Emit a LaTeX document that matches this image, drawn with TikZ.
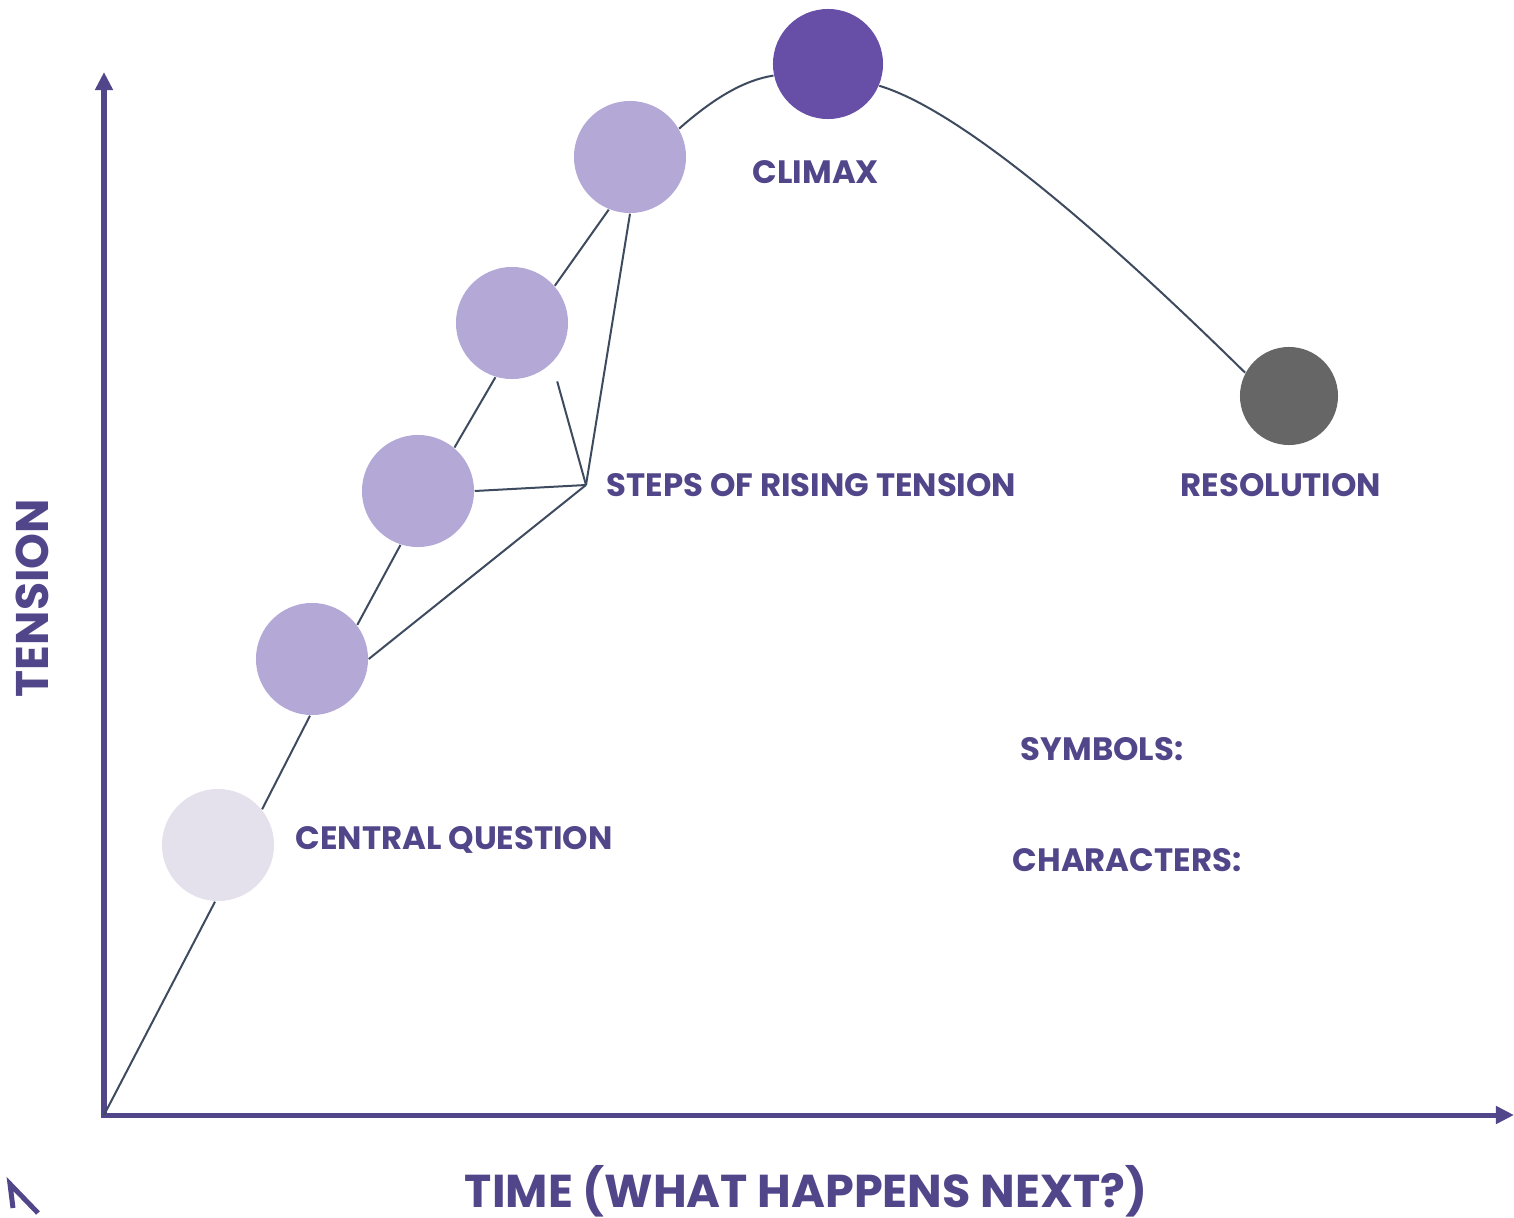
\documentclass[tikz,border=0pt]{standalone}
\usepackage{fontspec}
\setmainfont{Poppins}
\usetikzlibrary{arrows.meta}
\definecolor{storyink}{RGB}{82,70,138}
\definecolor{threadgray}{RGB}{62,75,95}
\definecolor{stepfill}{RGB}{179,168,214}
\definecolor{paleq}{RGB}{228,225,236}
\definecolor{peak}{RGB}{103,78,167}
\definecolor{settle}{RGB}{102,102,102}
\begin{document}
\begin{tikzpicture}[x=0.01cm,y=-0.01cm,
  beat/.style={circle,inner sep=0pt,minimum size=1.12cm,fill=stepfill},
  lbl/.style={text=storyink,font=\bfseries\fontsize{9.2}{11}\selectfont,
    anchor=west,inner sep=0pt},
  axis/.style={draw=storyink,line width=0.05cm},
  thread/.style={draw=threadgray,line width=0.02cm}]
\useasboundingbox (0,0) rectangle (1514,1218);
% axes
\coordinate (o) at (104,1115);
\draw[axis,{Triangle[length=0.18cm,width=0.17cm]}-{Triangle[length=0.18cm,width=0.17cm]}]
  (104,72) -- (o) -- (1514,1115);
\draw[storyink,line width=0.05cm] (13,1208) -- (10,1184) -- (38,1213);
% beats along the arc
\node[beat,fill=paleq] (cq) at (218,845) {};
\foreach \n/\x/\y in {1/312/659,2/418/491,3/512/323,4/630/157}
  \node[beat] (s\n) at (\x,\y) {};
\node[beat,fill=peak,minimum size=1.1cm] (top) at (828,64) {};
\node[beat,fill=settle,minimum size=0.98cm] (end) at (1289,396) {};
\draw[thread] (o) -- (cq.267);
\foreach \a/\b/\p/\q in {cq/s1/39/268,s1/s2/37/252,s2/s3/50/253,s3/s4/41/248}
  \draw[thread] (\a.\p) -- (\b.\q);
\draw[thread] (s4.30) .. controls (715,97) and (745,80) .. (top.192);
\draw[thread] (top.337) .. controls (960,110) and (1100,230) .. (end.152);
% spokes to the rising steps
\coordinate (hub) at (586,485);
\draw[thread] (hub) -- (s1.east);
\draw[thread] (hub) -- (s2.east);
\draw[thread,shorten >=0.19cm] (hub) -- (s3.south east);
\draw[thread] (hub) -- (s4.south);
% labels
\node[lbl] (climax) at (752,172) {CLIMAX};
\node[lbl] (steps) at (606,485) {STEPS OF RISING TENSION};
\node[lbl] (res) at (1180,485) {RESOLUTION};
\node[lbl] (cqlbl) at (295,840) {CENTRAL QUESTION};
\node[lbl] (sym) at (1020,749) {SYMBOLS:};
\node[lbl] (chars) at (1012,860) {CHARACTERS:};
\node[lbl,anchor=center,rotate=90,font=\bfseries\fontsize{13}{15}\selectfont]
  (tension) at (32,598) {TENSION};
\node[lbl,anchor=base,font=\bfseries\fontsize{13.1}{15}\selectfont]
  (time) at (806,1207) {TIME (WHAT HAPPENS NEXT?)};
\end{tikzpicture}
\end{document}
